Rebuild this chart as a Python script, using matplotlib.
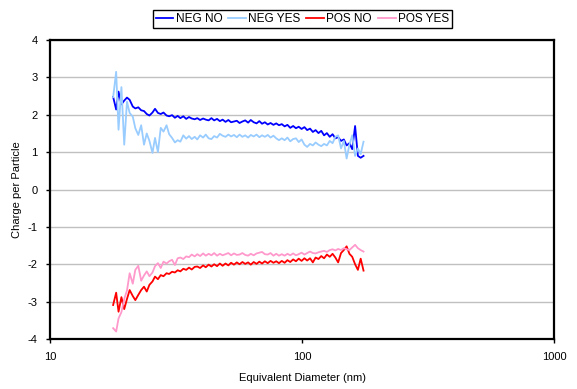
import matplotlib.pyplot as plt

# diameter bins (nm)
diameter = [17.8, 18.3, 18.7, 19.2, 19.7, 20.2, 20.7, 21.3, 21.8, 22.4,
            23.0, 23.6, 24.2, 24.8, 25.5, 26.1, 26.8, 27.5, 28.2, 29.0,
            29.7, 30.5, 31.3, 32.1, 32.9, 33.8, 34.7, 35.6, 36.5, 37.5,
            38.4, 39.4, 40.5, 41.5, 42.6, 43.7, 44.8, 46.0, 47.2, 48.4,
            49.7, 51.0, 52.3, 53.7, 55.1, 56.5, 58.0, 59.5, 61.1, 62.6,
            64.3, 66.0, 67.7, 69.4, 71.2, 73.1, 75.0, 77.0, 79.0, 81.0,
            83.1, 85.3, 87.5, 89.8, 92.2, 94.6, 97.0, 99.6, 102.2, 104.8,
            107.6, 110.4, 113.2, 116.2, 119.2, 122.3, 125.5, 128.8, 132.2, 135.6,
            139.1, 142.8, 146.5, 150.3, 154.2, 158.2, 162.4, 166.6, 170.9, 175.4]

neg_no = [2.48, 2.14, 2.62, 2.28, 2.38, 2.46, 2.40, 2.22, 2.17, 2.20,
          2.12, 2.10, 2.02, 1.98, 2.06, 2.16, 2.05, 2.02, 2.06, 1.98,
          1.96, 1.99, 1.92, 1.97, 1.91, 1.96, 1.89, 1.94, 1.90, 1.88,
          1.91, 1.86, 1.90, 1.87, 1.85, 1.91, 1.85, 1.89, 1.83, 1.87,
          1.81, 1.86, 1.80, 1.82, 1.84, 1.78, 1.82, 1.85, 1.79, 1.86,
          1.80, 1.77, 1.83, 1.76, 1.80, 1.74, 1.78, 1.73, 1.77, 1.72,
          1.75, 1.69, 1.73, 1.65, 1.70, 1.64, 1.68, 1.62, 1.67, 1.59,
          1.63, 1.54, 1.59, 1.51, 1.57, 1.45, 1.51, 1.41, 1.48, 1.37,
          1.40, 1.30, 1.34, 1.18, 1.24, 1.08, 1.70, 0.90, 0.85, 0.90]

neg_yes = [2.47, 3.15, 1.60, 2.74, 1.20, 2.35, 2.05, 1.95, 1.64, 1.46,
           1.72, 1.20, 1.50, 1.30, 0.98, 1.38, 1.00, 1.65, 1.55, 1.72,
           1.48, 1.38, 1.26, 1.32, 1.28, 1.45, 1.36, 1.43, 1.35, 1.41,
           1.34, 1.45, 1.39, 1.47, 1.37, 1.35, 1.43, 1.39, 1.49, 1.44,
           1.41, 1.47, 1.42, 1.46, 1.40, 1.47, 1.41, 1.45, 1.39, 1.46,
           1.42, 1.47, 1.40, 1.45, 1.41, 1.46, 1.39, 1.44, 1.37, 1.32,
           1.37, 1.32, 1.39, 1.29, 1.35, 1.37, 1.27, 1.34, 1.20, 1.14,
           1.22, 1.18, 1.26, 1.20, 1.16, 1.22, 1.18, 1.30, 1.24, 1.41,
           1.45, 1.10, 1.30, 0.83, 1.20, 1.45, 0.90, 1.10, 0.95, 1.28]

pos_no = [-3.09, -2.76, -3.27, -2.88, -3.20, -2.93, -2.69, -2.85, -2.96, -2.82,
          -2.69, -2.60, -2.73, -2.55, -2.46, -2.33, -2.40, -2.29, -2.32, -2.24,
          -2.26, -2.20, -2.22, -2.16, -2.19, -2.12, -2.15, -2.09, -2.14, -2.07,
          -2.06, -2.10, -2.03, -2.08, -2.01, -2.06, -2.00, -2.05, -1.98, -2.04,
          -1.98, -2.03, -1.96, -2.01, -1.95, -2.00, -1.94, -1.99, -1.95, -2.01,
          -1.94, -1.99, -1.93, -1.98, -1.92, -1.97, -1.91, -1.96, -1.92, -1.97,
          -1.91, -1.96, -1.89, -1.94, -1.87, -1.92, -1.85, -1.91, -1.84, -1.90,
          -1.84, -1.95, -1.82, -1.86, -1.78, -1.84, -1.74, -1.80, -1.72, -1.82,
          -1.95, -1.70, -1.62, -1.52, -1.72, -1.80, -2.00, -2.15, -1.85, -2.17]

pos_yes = [-3.71, -3.80, -3.45, -3.28, -2.93, -2.70, -2.24, -2.52, -2.15, -2.04,
           -2.44, -2.30, -2.19, -2.32, -2.22, -2.05, -1.97, -2.10, -1.93, -1.98,
           -1.92, -1.88, -2.02, -1.84, -1.82, -1.86, -1.79, -1.81, -1.74, -1.79,
           -1.73, -1.78, -1.71, -1.77, -1.72, -1.76, -1.70, -1.77, -1.72, -1.76,
           -1.73, -1.70, -1.76, -1.71, -1.75, -1.74, -1.70, -1.75, -1.77, -1.72,
           -1.76, -1.71, -1.69, -1.67, -1.73, -1.74, -1.70, -1.77, -1.72, -1.77,
           -1.73, -1.77, -1.72, -1.76, -1.71, -1.76, -1.73, -1.69, -1.74, -1.70,
           -1.66, -1.70, -1.71, -1.68, -1.66, -1.64, -1.67, -1.62, -1.60, -1.63,
           -1.59, -1.62, -1.57, -1.60, -1.62, -1.55, -1.48, -1.57, -1.62, -1.66]

navn = ["NEG NO", "NEG YES", "POS NO", "POS YES"]
farger = ["#0000FF", "#99CCFF", "#FF0000", "#FF99CC"]
serier = [neg_no, neg_yes, pos_no, pos_yes]

plt.rcParams["font.family"] = ["Liberation Sans", "DejaVu Sans"]
plt.rcParams["font.size"] = 8
plt.rcParams["axes.unicode_minus"] = False

fig = plt.figure(figsize=(5.77, 3.89), dpi=100)
ax = fig.add_axes([0.0867, 0.1285, 0.8735, 0.7686])

for y, c, n in zip(serier, farger, navn):
    ax.plot(diameter, y, color=c, lw=1.3, label=n, zorder=3)

ax.set_xscale("log")
ax.set_xlim(10, 1000)
ax.set_ylim(-4, 4)
ax.set_xticks([10, 100, 1000])
ax.set_xticklabels(["10", "100", "1000"])
ax.minorticks_off()
ax.set_yticks(range(-4, 5))
ax.grid(axis="y", color="#C0C0C0", lw=1, zorder=0)
for s in ax.spines.values():
    s.set_linewidth(1.6)
ax.tick_params(direction="out", length=3, width=1, pad=6)
ax.set_xlabel("Equivalent Diameter (nm)", labelpad=8)
ax.set_ylabel("Charge per Particle", labelpad=4)

fig.legend(loc="upper center", bbox_to_anchor=(0.524, 0.99), ncol=4,
           fancybox=False, edgecolor="black", framealpha=1,
           handlelength=1.5, handletextpad=0.2, columnspacing=0.5,
           borderpad=0.25, fontsize=8.5)

fig.savefig("out.png", dpi=100)
